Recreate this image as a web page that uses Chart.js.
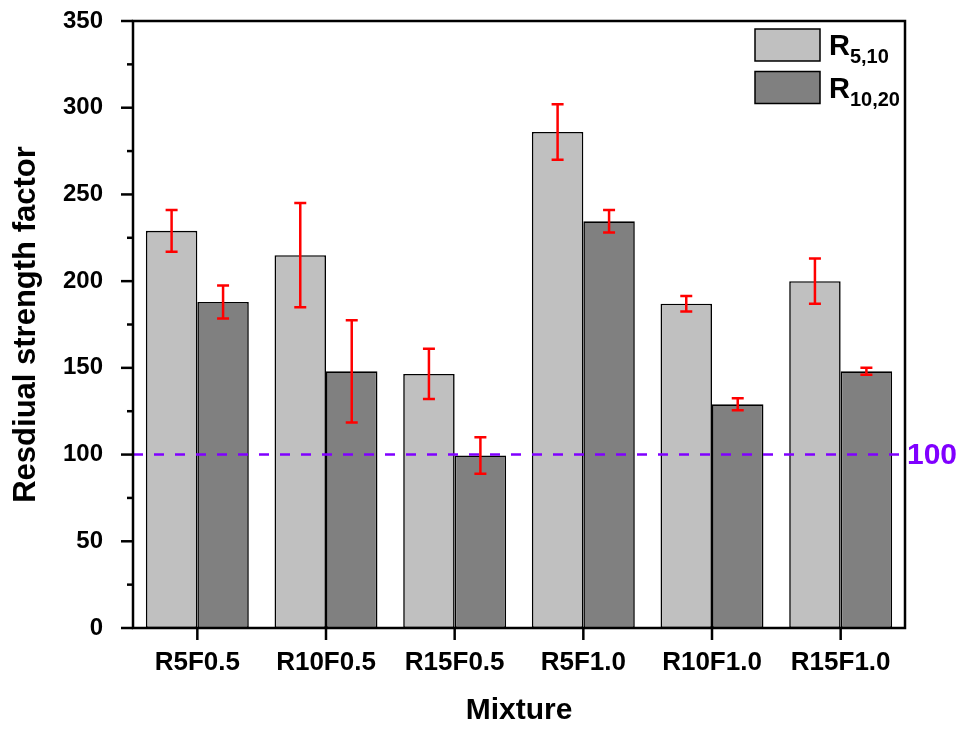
<!DOCTYPE html>
<html>
<head>
<meta charset="utf-8">
<script src="https://cdn.jsdelivr.net/npm/chart.js@4.4.1/dist/chart.umd.min.js"></script>
<style>
  html, body { margin: 0; padding: 0; background: #fff; }
  #wrap { width: 962px; height: 729px; }
</style>
</head>
<body>
<div id="wrap"><canvas id="myChart" width="962" height="729"></canvas></div>
<script>
// Данные: смеси и коэффициенты остаточной прочности
const mixtures = ['R5F0.5', 'R10F0.5', 'R15F0.5', 'R5F1.0', 'R10F1.0', 'R15F1.0'];
const r510     = [229, 215, 146.5, 286, 187, 200];
const r510Err  = [12, 30, 14.5, 16, 4.5, 13];
const r1020    = [188, 148, 99.5, 234.5, 129, 148];
const r1020Err = [9.5, 29.5, 10.5, 6.5, 3.5, 2];

// Подписи легенды: буква + нижний индекс
const legendBase = 'R';
const legendSubs = ['5,10', '10,20'];

// Ось Y
const yMin = 0;
const yMax = 350;
const yMajorStep = 50;
const yMinorStep = 25;

// Пороговая линия
const thresholdValue = 100;

const FONT = "'Liberation Sans', Arial, sans-serif";

// Рамка графика, основные и промежуточные засечки
const frameAxesPlugin = {
  id: 'frameAxes',
  afterDraw(chart) {
    const { ctx, chartArea, scales } = chart;
    const { left, right, top, bottom } = chartArea;
    ctx.save();
    ctx.strokeStyle = '#000';
    ctx.lineWidth = 2.5;
    ctx.strokeRect(left, top, right - left, bottom - top);

    // засечки по Y
    for (let v = yMin; v <= yMax; v += yMinorStep) {
      const y = scales.y.getPixelForValue(v);
      const len = (v % yMajorStep === 0) ? 12 : 6;
      ctx.beginPath();
      ctx.moveTo(left, y);
      ctx.lineTo(left - len, y);
      ctx.stroke();
    }
    // засечки по X в центрах категорий
    mixtures.forEach((m, i) => {
      const x = scales.x.getPixelForValue(i);
      ctx.beginPath();
      ctx.moveTo(x, bottom);
      ctx.lineTo(x, bottom + 12);
      ctx.stroke();
    });
    ctx.restore();
  }
};

// Пунктир на уровне 100 и планки погрешностей
const overlayPlugin = {
  id: 'overlay',
  afterDatasetsDraw(chart) {
    const { ctx, chartArea, scales } = chart;
    const yScale = scales.y;
    ctx.save();

    const yT = yScale.getPixelForValue(thresholdValue);
    ctx.strokeStyle = '#8000ff';
    ctx.lineWidth = 2.5;
    ctx.setLineDash([10, 11]);
    ctx.beginPath();
    ctx.moveTo(chartArea.left, yT);
    ctx.lineTo(chartArea.right, yT);
    ctx.stroke();
    ctx.setLineDash([]);

    ctx.fillStyle = '#8000ff';
    ctx.font = 'bold 30px ' + FONT;
    ctx.textAlign = 'left';
    ctx.textBaseline = 'middle';
    ctx.fillText(String(thresholdValue), chartArea.right + 2, yT + 1);

    const errs = [r510Err, r1020Err];
    ctx.strokeStyle = '#ff0000';
    ctx.lineWidth = 2.5;
    chart.data.datasets.forEach((ds, di) => {
      const meta = chart.getDatasetMeta(di);
      meta.data.forEach((bar, i) => {
        const v = ds.data[i];
        const e = errs[di][i];
        const x = bar.x;
        const yHi = yScale.getPixelForValue(v + e);
        const yLo = yScale.getPixelForValue(v - e);
        ctx.beginPath();
        ctx.moveTo(x, yHi); ctx.lineTo(x, yLo);
        ctx.moveTo(x - 6, yHi); ctx.lineTo(x + 6, yHi);
        ctx.moveTo(x - 6, yLo); ctx.lineTo(x + 6, yLo);
        ctx.stroke();
      });
    });
    ctx.restore();
  }
};

// Легенда с нижними индексами
const subLegendPlugin = {
  id: 'subLegend',
  afterDraw(chart) {
    const { ctx, chartArea } = chart;
    ctx.save();
    chart.data.datasets.forEach((ds, i) => {
      const bx = chartArea.right - 150;
      const by = chartArea.top + 8 + i * 42.5;
      ctx.fillStyle = ds.backgroundColor;
      ctx.fillRect(bx, by, 65, 32);
      ctx.strokeStyle = '#000';
      ctx.lineWidth = 1.5;
      ctx.strokeRect(bx, by, 65, 32);

      ctx.fillStyle = '#000';
      ctx.textAlign = 'left';
      ctx.textBaseline = 'alphabetic';
      ctx.font = 'bold 29px ' + FONT;
      const tx = bx + 74;
      const base = by + 26;
      ctx.fillText(legendBase, tx, base);
      const w = ctx.measureText(legendBase).width;
      ctx.font = 'bold 20px ' + FONT;
      ctx.fillText(legendSubs[i], tx + w, base + 8);
    });
    ctx.restore();
  }
};

Chart.register(frameAxesPlugin, overlayPlugin, subLegendPlugin);

const ctx = document.getElementById('myChart').getContext('2d');
new Chart(ctx, {
  type: 'bar',
  data: {
    labels: mixtures,
    datasets: [
      {
        label: legendBase + legendSubs[0],
        data: r510,
        backgroundColor: '#c0c0c0',
        borderColor: '#000',
        borderWidth: 1.6,
        borderSkipped: false
      },
      {
        label: legendBase + legendSubs[1],
        data: r1020,
        backgroundColor: '#808080',
        borderColor: '#000',
        borderWidth: 1.6,
        borderSkipped: false
      }
    ]
  },
  options: {
    responsive: false,
    animation: false,
    devicePixelRatio: 1,
    layout: { padding: { top: 21, right: 57, left: 0, bottom: 0 } },
    datasets: { bar: { categoryPercentage: 0.8, barPercentage: 1.0 } },
    plugins: {
      legend: { display: false },
      tooltip: { enabled: false }
    },
    scales: {
      x: {
        offset: true,
        grid: { display: false },
        border: { display: false },
        ticks: { color: '#000', padding: 11, font: { family: FONT, size: 26, weight: 'bold' } },
        title: {
          display: true,
          text: 'Mixture',
          color: '#000',
          padding: 0,
          font: { family: FONT, size: 30, weight: 'bold' }
        },
        afterFit(scale) { scale.height = 101; }
      },
      y: {
        min: yMin,
        max: yMax,
        grid: { display: false },
        border: { display: false },
        ticks: {
          stepSize: yMajorStep,
          color: '#000',
          padding: 22,
          font: { family: FONT, size: 24, weight: 'bold' }
        },
        title: {
          display: true,
          text: 'Resdiual strength factor',
          color: '#000',
          padding: { top: 8, bottom: 0 },
          font: { family: FONT, size: 31, weight: 'bold' }
        },
        // ширина оси фиксирована; padding подписей не должен сдвигать верх области
        afterFit(scale) {
          scale.width = 133;
          scale.paddingTop = 0;
          scale.paddingBottom = 0;
        }
      }
    }
  }
});
</script>
</body>
</html>
